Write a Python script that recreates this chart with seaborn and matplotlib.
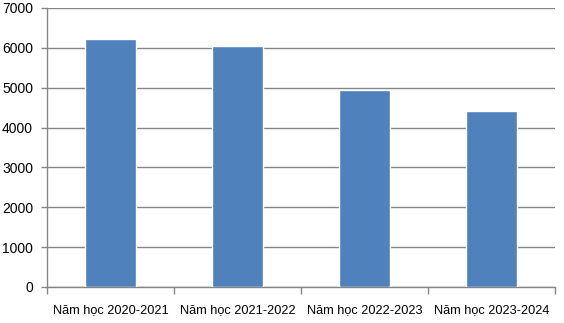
import matplotlib
matplotlib.use("Agg")
import matplotlib.pyplot as plt
import seaborn as sns
import pandas as pd

categories = ["Năm học 2020-2021", "Năm học 2021-2022", "Năm học 2022-2023", "Năm học 2023-2024"]
values = [6210, 6040, 4950, 4425]
yticks = [0, 1000, 2000, 3000, 4000, 5000, 6000, 7000]

sns.set_theme(style="white")
plt.rcParams['font.family'] = ['Liberation Sans', 'DejaVu Sans']

df = pd.DataFrame({"cat": categories, "val": values})

fig = plt.figure(figsize=(5.64, 3.23), dpi=100)
ax = fig.add_axes([47/564, 1-287/323, (555-47)/564, (287-8)/323])

sns.barplot(data=df, x="cat", y="val", color="#4F81BD", width=0.4,
            saturation=1, ax=ax, zorder=3)

ax.set_ylim(0, 7000)
ax.set_xlim(-0.5, 3.5)
ax.set_yticks(yticks)
ax.set_yticklabels([str(t) for t in yticks], fontsize=10, color="black")
ax.set_xlabel("")
ax.set_ylabel("")
ax.set_xticklabels(categories, fontsize=9.2, color="black")
ax.tick_params(axis="x", length=0, pad=12)
ax.tick_params(axis="y", length=4, color="#868686", width=1, direction="out", pad=6, left=True)
ax.yaxis.grid(True, color="#868686", linewidth=1)
ax.set_axisbelow(True)

# category boundary ticks on x axis
ax.set_xticks([-0.5, 0.5, 1.5, 2.5, 3.5], minor=True)
ax.tick_params(axis="x", which="minor", length=5, color="#868686", width=1, direction="out", bottom=True)

for s in ["top", "right"]:
    ax.spines[s].set_visible(False)
for s in ["left", "bottom"]:
    ax.spines[s].set_color("#868686")
    ax.spines[s].set_linewidth(1)

fig.savefig("out.png", dpi=100)
